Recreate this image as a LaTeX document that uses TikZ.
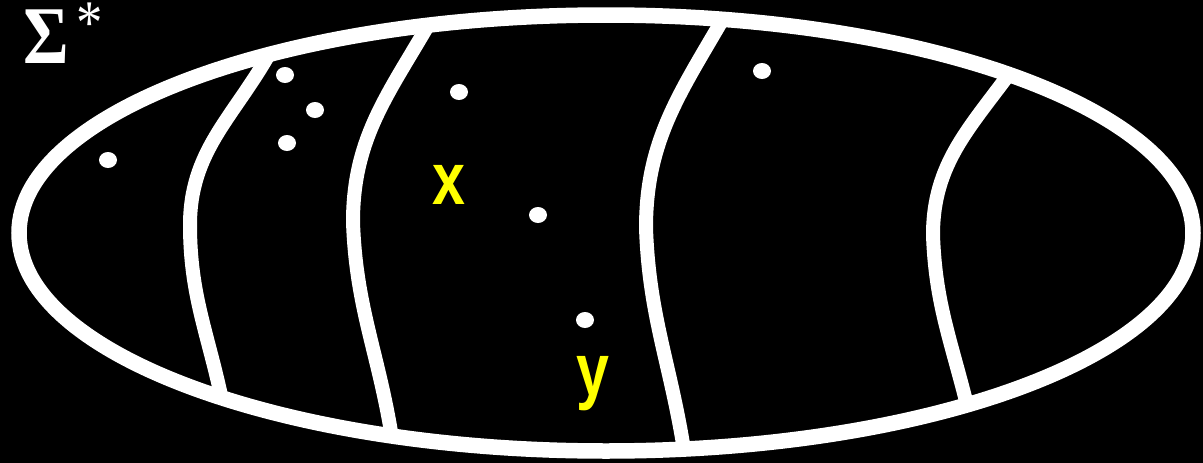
\documentclass[tikz,border=0pt]{standalone}
\usepackage{fontspec}
\setmainfont{Liberation Sans}
\newfontfamily\sigmafont{Liberation Serif}
\usetikzlibrary{shapes.geometric}
\definecolor{lbl}{HTML}{FFFF00}
\tikzset{rim/.style={draw=white,line width=15.5pt},cut/.style={draw=white,line width=14pt},elem/.style={ellipse,fill=white,minimum width=18pt,minimum height=16pt,inner sep=0pt},word/.style={text=lbl,font=\bfseries\fontsize{74}{74}\selectfont,xscale=.8,inner sep=0pt}}

\begin{document}
\begin{tikzpicture}[x=1pt,y=-1pt]
\useasboundingbox (0,0) rectangle (1203,463);
\fill[black] (0,0) rectangle (1203,463);
% classes
\draw[cut] (268,56) to[out=-120,in=90] (190,225) to[out=-90,in=102] (222,400);
\draw[cut] (430,22) to[out=-120,in=90] (353,222) to[out=-88,in=99] (392,438);
\draw[cut] (724,17) to[out=-120,in=90] (646,228) to[out=-88,in=99] (684,450);
\draw[cut] (1012,70) to[out=-126,in=90] (933,235) to[out=-88,in=104] (967,405);
\draw[rim] (606,233) ellipse [x radius=587,y radius=218];
% words
\foreach \n/\p in {d1/{(108,160)},d2/{(285,75)},d3/{(315,110)},d4/{(287,143)},d5/{(459,92)},d6/{(538,215)},d7/{(585,320)},d8/{(762,71)}}
  \node[elem] (\n) at \p {};
\node[word] (x) at (449,185) {x};
\node[word] (y) at (593,384) {y};
\node[text=white,inner sep=0pt,anchor=base west,xscale=.85] (sig) at (23,63) {\sigmafont\fontsize{82}{82}\selectfont\bfseries Σ\hspace{9pt}\raisebox{20pt}{\fontsize{62}{62}\selectfont\mdseries *}};
\end{tikzpicture}
\end{document}
